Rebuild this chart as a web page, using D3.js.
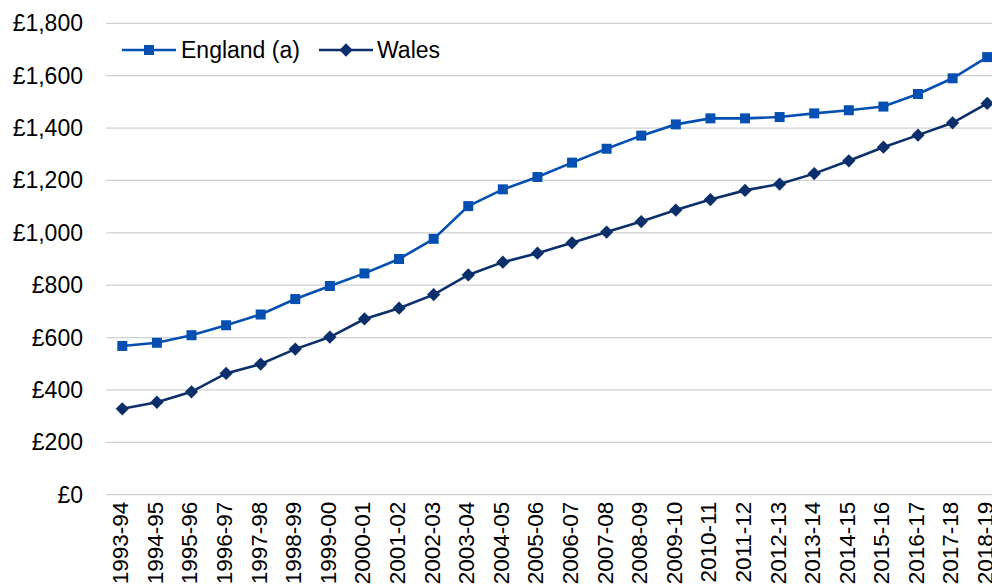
<!DOCTYPE html>
<html>
<head>
<meta charset="utf-8">
<script src="https://cdn.jsdelivr.net/npm/d3@7/dist/d3.min.js"></script>
<style>
  html, body { margin: 0; padding: 0; background: #fff; overflow: hidden; }
  svg { display: block; font-family: "Liberation Sans", Arial, sans-serif; }
</style>
</head>
<body>
<svg id="chart" width="992" height="587"></svg>
<script>
// Financial years on the x axis
const years = ["1993-94","1994-95","1995-96","1996-97","1997-98","1998-99","1999-00",
  "2000-01","2001-02","2002-03","2003-04","2004-05","2005-06","2006-07","2007-08",
  "2008-09","2009-10","2010-11","2011-12","2012-13","2013-14","2014-15","2015-16",
  "2016-17","2017-18","2018-19"];

// Average Band D council tax (£)
const england = [568, 580, 609, 647, 688, 747, 797, 845, 900, 977, 1102, 1166, 1213, 1268,
  1321, 1371, 1414, 1437, 1437, 1442, 1456, 1468, 1482, 1530, 1590, 1671];
const wales = [328, 353, 393, 463, 499, 556, 602, 671, 712, 764, 839, 888, 922, 962,
  1003, 1043, 1087, 1127, 1162, 1186, 1226, 1275, 1327, 1373, 1420, 1494];

const yTicks = [0, 200, 400, 600, 800, 1000, 1200, 1400, 1600, 1800];

const seriesNames = ["England (a)", "Wales"];
const seriesColors = ["#0450B2", "#0B2F6B"];

const svg = d3.select("#chart");
const margin = { left: 105, top: 23.3, bottom: 92.3 };
const plotRight = 1004.5;
const H = 587;

const x = d3.scaleBand().domain(years).range([margin.left, plotRight]);
const y = d3.scaleLinear().domain([0, 1800]).range([H - margin.bottom, margin.top]);

// Horizontal gridlines
svg.append("g")
  .selectAll("line")
  .data(yTicks)
  .join("line")
  .attr("x1", margin.left + 1)
  .attr("x2", plotRight)
  .attr("y1", d => y(d))
  .attr("y2", d => y(d))
  .attr("stroke", "#d0d0d0")
  .attr("stroke-width", 1.3);

// Y axis labels
const fmt = d3.format(",");
svg.append("g")
  .selectAll("text")
  .data(yTicks)
  .join("text")
  .attr("x", 83)
  .attr("y", d => y(d))
  .attr("dy", "0.35em")
  .attr("text-anchor", "end")
  .attr("font-size", 23)
  .attr("fill", "#000")
  .text(d => "£" + fmt(d));

// X axis labels, rotated
svg.append("g")
  .selectAll("text")
  .data(years)
  .join("text")
  .attr("transform", d => `translate(${x(d) + x.bandwidth() / 2 - 2},${y(0) + 7}) rotate(-90)`)
  .attr("text-anchor", "end")
  .attr("dy", "0.35em")
  .attr("font-size", 22.5)
  .attr("fill", "#000")
  .text(d => d);

const cx = d => x(d) + x.bandwidth() / 2;
const line = d3.line().x(d => cx(d.year)).y(d => y(d.value));

const series = [
  { name: seriesNames[0], color: seriesColors[0], values: england, size: 100, rot: 0 },
  { name: seriesNames[1], color: seriesColors[1], values: wales, size: 88, rot: 45 }
];

series.forEach(s => {
  const pts = years.map((yr, i) => ({ year: yr, value: s.values[i] }));
  svg.append("path")
    .datum(pts)
    .attr("d", line)
    .attr("fill", "none")
    .attr("stroke", s.color)
    .attr("stroke-width", 2.6);
  svg.append("g")
    .selectAll("path")
    .data(pts)
    .join("path")
    .attr("transform", d => `translate(${cx(d.year)},${y(d.value)}) rotate(${s.rot})`)
    .attr("d", d3.symbol().type(d3.symbolSquare).size(s.size))
    .attr("fill", s.color);
});

// Legend
const legendPos = [{ x: 122, tx: 181 }, { x: 319, tx: 377 }];
const legendY = 50;
series.forEach((s, i) => {
  const g = svg.append("g");
  g.append("line")
    .attr("x1", legendPos[i].x).attr("x2", legendPos[i].x + 54)
    .attr("y1", legendY).attr("y2", legendY)
    .attr("stroke", s.color).attr("stroke-width", 2.6);
  g.append("path")
    .attr("transform", `translate(${legendPos[i].x + 27},${legendY}) rotate(${s.rot})`)
    .attr("d", d3.symbol().type(d3.symbolSquare).size(s.size))
    .attr("fill", s.color);
  g.append("text")
    .attr("x", legendPos[i].tx)
    .attr("y", legendY)
    .attr("dy", "0.35em")
    .attr("font-size", 23)
    .attr("fill", "#000")
    .text(s.name);
});
</script>
</body>
</html>
